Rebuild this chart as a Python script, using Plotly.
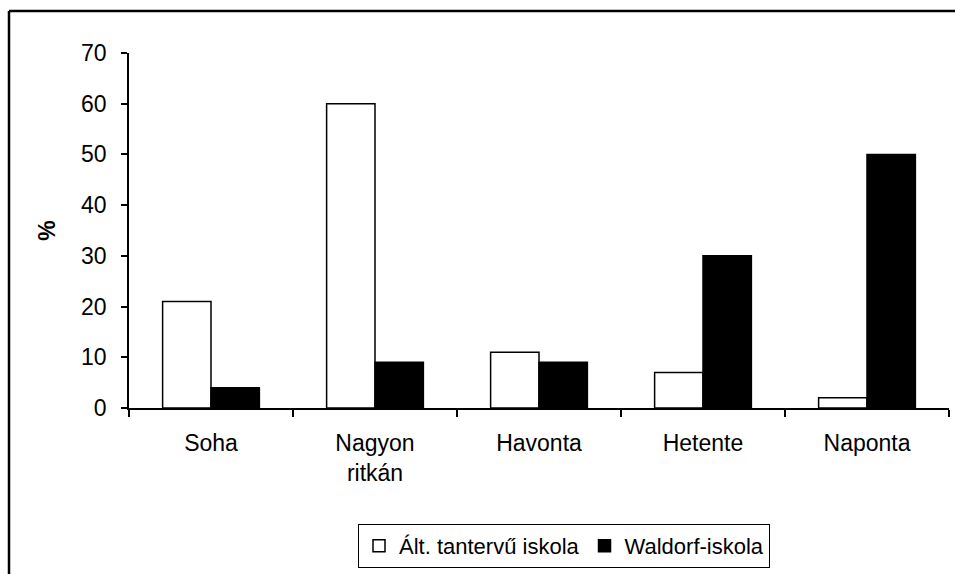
import plotly.graph_objects as go

categories = ["Soha", "Nagyon<br>ritkán", "Havonta", "Hetente", "Naponta"]
alt_tanterv = [21, 60, 11, 7, 2]
waldorf = [4, 9, 9, 30, 50]
y_ticks = [0, 10, 20, 30, 40, 50, 60, 70]

FONT = "Arial, 'Liberation Sans', sans-serif"
W, H = 955, 574
L, T = 129, 53
R = W - 949
B = H - 408
pw = W - L - R
ph = H - T - B

fig = go.Figure()
fig.add_trace(go.Bar(x=categories, y=alt_tanterv, name="Ált. tantervű iskola",
                     marker=dict(color="white", line=dict(color="black", width=1.5))))
fig.add_trace(go.Bar(x=categories, y=waldorf, name="Waldorf-iskola",
                     marker=dict(color="black", line=dict(color="black", width=1.5))))

def px_x(x):  # page pixel -> paper
    return (x - L) / pw

def px_y(y):
    return (H - B - y) / ph

frame_line = dict(color="black", width=2.5)
fig.update_layout(
    width=W, height=H,
    margin=dict(l=L, r=R, t=T, b=B),
    paper_bgcolor="white", plot_bgcolor="white",
    barmode="group", bargap=0.41, bargroupgap=0,
    font=dict(family=FONT, size=23, color="black"),
    showlegend=True,
    legend=dict(orientation="h", x=px_x(564), xanchor="center", y=px_y(524), yanchor="top",
                bordercolor="black", borderwidth=1, font=dict(size=22),
                itemwidth=30, tracegroupgap=0),
    xaxis=dict(showline=True, linecolor="black", linewidth=1.5, ticks="outside",
               tickson="boundaries", ticklen=7, tickwidth=1.5, tickcolor="black",
               showgrid=False, tickfont=dict(size=23), ticklabelstandoff=14),
    yaxis=dict(range=[0, 70], tickvals=y_ticks, showline=True, linecolor="black", linewidth=1.5,
               ticks="outside", ticklen=6, tickwidth=1.5, tickcolor="black", showgrid=False,
               zeroline=False, tickfont=dict(size=23), ticklabelstandoff=10,
               title=dict(text="<b>%</b>", font=dict(size=23), standoff=19)),
    shapes=[
        dict(type="line", xref="paper", yref="paper",
             x0=px_x(9), x1=px_x(9), y0=px_y(600), y1=px_y(11), line=frame_line),
        dict(type="line", xref="paper", yref="paper",
             x0=px_x(9), x1=px_x(1000), y0=px_y(11), y1=px_y(11), line=frame_line),
    ],
)

fig.write_html("out.html", config={"displayModeBar": False},
               post_script="document.body.style.margin='0';document.body.style.overflow='hidden';")
